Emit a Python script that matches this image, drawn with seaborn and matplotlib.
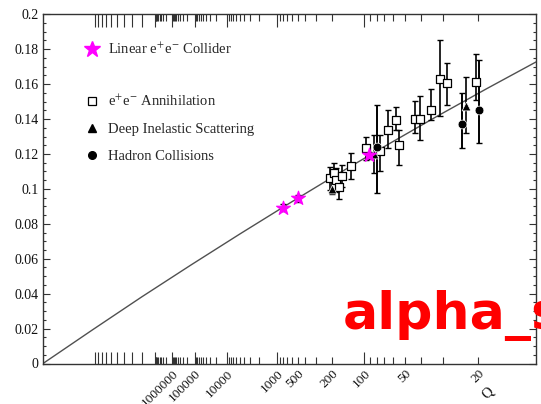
import numpy as np
import pandas as pd
import matplotlib
matplotlib.use("Agg")
import matplotlib.pyplot as plt
import seaborn as sns
from matplotlib.lines import Line2D

# ---- data (x in units of the plot's 1/ln(Q) axis, 0..1 across the frame) ----
line_t = [0.0, 0.1, 0.2, 0.3, 0.4, 0.5, 0.6, 0.7, 0.8, 0.9, 1.0]
line_alpha = [0.0, 0.0192, 0.0381, 0.0564, 0.0743, 0.0918, 0.1089, 0.1255, 0.1417, 0.1574, 0.1727]

star_t = [0.486, 0.517, 0.661]
star_a = [0.0892, 0.0946, 0.1194]
star_err = [0.002, 0.002, 0.002]

ann_t = [0.583, 0.590, 0.595, 0.600, 0.606, 0.624, 0.655, 0.684, 0.700, 0.716,
         0.723, 0.755, 0.765, 0.788, 0.805, 0.819, 0.878]
ann_a = [0.106, 0.1089, 0.1051, 0.1013, 0.1074, 0.1133, 0.1233, 0.1215, 0.134, 0.1395,
         0.1251, 0.1399, 0.1399, 0.1452, 0.1631, 0.1605, 0.1614]
ann_lo = [0.0994, 0.1032, 0.0985, 0.094, 0.1013, 0.1055, 0.1166, 0.110, 0.1233, 0.1337,
          0.1137, 0.132, 0.128, 0.1395, 0.1417, 0.148, 0.1509]
ann_hi = [0.1127, 0.115, 0.112, 0.107, 0.1137, 0.1204, 0.1296, 0.131, 0.145, 0.147,
          0.1335, 0.1505, 0.153, 0.157, 0.1853, 0.172, 0.1772]

dis_t = [0.586, 0.671, 0.858]
dis_a = [0.0998, 0.120, 0.1474]
dis_lo = [0.097, 0.109, 0.1322]
dis_hi = [0.107, 0.131, 0.1642]

had_t = [0.677, 0.849, 0.885]
had_a = [0.1239, 0.1372, 0.1452]
had_lo = [0.0978, 0.1233, 0.1264]
had_hi = [0.148, 0.1547, 0.1738]

# axis: Q tick marks
q_decades = [1e16, 1e15, 1e14, 1e13, 1e12, 1e11, 1e10, 1e9, 1e8, 1e7, 1e6, 1e5, 1e4, 1e3, 1e2]
q_decade_labels = ["", "", "", "", "", "", "", "", "", "", "1000000", "100000", "10000", "1000", "100"]
q_minor_labels = {500: "500", 200: "200", 50: "50", 20: "20"}
Q_LAMBDA = 0.211
Q_SCALE = 4.017

def q_to_t(q):
    return Q_SCALE / np.log(np.asarray(q, dtype=float) / Q_LAMBDA)

sns.set_theme(style="ticks")
plt.rcParams['font.family'] = ['Liberation Serif', 'DejaVu Serif']
plt.rcParams['mathtext.fontset'] = 'stix'

fig = plt.figure(figsize=(5.41, 4.04), dpi=100)
ax = fig.add_axes([43 / 541, 1 - 363.5 / 404, 493 / 541, 349.2 / 404])

sns.lineplot(x=line_t, y=line_alpha, ax=ax, color="#505050", lw=1.0, sort=False)

ecol = "black"
ax.errorbar(star_t, star_a, yerr=star_err, fmt="none", ecolor=ecol, elinewidth=1.1, capsize=2.2)
ax.errorbar(ann_t, ann_a, yerr=[np.subtract(ann_a, ann_lo), np.subtract(ann_hi, ann_a)],
            fmt="none", ecolor=ecol, elinewidth=1.2, capsize=2.4)
ax.errorbar(dis_t, dis_a, yerr=[np.subtract(dis_a, dis_lo), np.subtract(dis_hi, dis_a)],
            fmt="none", ecolor=ecol, elinewidth=1.2, capsize=2.4)
ax.errorbar(had_t, had_a, yerr=[np.subtract(had_a, had_lo), np.subtract(had_hi, had_a)],
            fmt="none", ecolor=ecol, elinewidth=1.4, capsize=2.4)

sns.scatterplot(x=ann_t, y=ann_a, ax=ax, marker="s", s=38, facecolor="white",
                edgecolor="black", linewidth=0.9, zorder=4)
sns.scatterplot(x=dis_t, y=dis_a, ax=ax, marker="^", s=40, color="black", zorder=4)
sns.scatterplot(x=had_t, y=had_a, ax=ax, marker="o", s=40, color="black", zorder=4)
sns.scatterplot(x=star_t, y=star_a, ax=ax, marker="*", s=110, color="#ff00ff",
                edgecolor="#ff00ff", zorder=5)

ax.set_xlim(0, 1)
ax.set_ylim(0, 0.2)

# y ticks
yt = np.arange(0, 0.2001, 0.02)
ax.set_yticks(yt)
ax.set_yticklabels(["0"] + [f"{v:.2f}".rstrip("0") for v in yt[1:]])
ax.set_yticks(np.arange(0, 0.2001, 0.005), minor=True)

# x ticks
ax.set_xticks(q_to_t(q_decades))
ax.set_xticklabels(q_decade_labels)
minor_q = [m * 10 ** n for n in range(1, 7) for m in range(2, 10) if m * 10 ** n > 11.7]
ax.set_xticks(q_to_t(minor_q), minor=True)
ax.set_xticklabels([q_minor_labels.get(int(q), "") for q in minor_q], minor=True)

for lbl in ax.get_xticklabels(which="both"):
    lbl.set_rotation(45)
    lbl.set_ha("right")
    lbl.set_va("top")
    lbl.set_rotation_mode("anchor")
    lbl.set_fontsize(9.5)
for lbl in ax.get_yticklabels():
    lbl.set_fontsize(10)

ax.tick_params(which="both", direction="in", top=True, right=True, color="#333333",
               width=0.8, labelcolor="#111111")
ax.tick_params(axis="x", which="major", length=9, pad=3)
ax.tick_params(axis="x", which="minor", length=5, pad=3)
ax.tick_params(axis="y", which="major", length=5, pad=3)
ax.tick_params(axis="y", which="minor", length=2.5)
for sp in ax.spines.values():
    sp.set_color("#333333")
    sp.set_linewidth(1.0)

ax.text(0.903, -0.085, "Q", transform=ax.transAxes, rotation=45, ha="center",
        va="center", fontsize=10.5, color="#111111")

# legends
h1 = [Line2D([], [], marker="*", ls="none", color="#ff00ff", ms=12)]
leg1 = ax.legend(h1, ["Linear e$^{+}$e$^{-}$ Collider"], loc="center left",
                 bbox_to_anchor=(0.085, 0.900), frameon=False, fontsize=10.5,
                 handlelength=1.0, handletextpad=0.55, borderpad=0, borderaxespad=0)
ax.add_artist(leg1)
h2 = [Line2D([], [], marker="s", ls="none", mfc="white", mec="black", ms=6, mew=0.9),
      Line2D([], [], marker="^", ls="none", color="black", ms=5.5),
      Line2D([], [], marker="o", ls="none", color="black", ms=5.5)]
ax.legend(h2, ["e$^{+}$e$^{-}$ Annihilation", "Deep Inelastic Scattering", "Hadron Collisions"],
          loc="upper left", bbox_to_anchor=(0.085, 0.773), frameon=False, fontsize=10.5,
          handlelength=1.0, handletextpad=0.55, borderpad=0, borderaxespad=0,
          labelspacing=0.95)

fig.text(343 / 541, 1 - 329 / 404, "alpha_s", color="#ff0000", fontsize=37.5,
         fontweight="bold", family="DejaVu Sans", ha="left", va="baseline")

fig.savefig("out.png", dpi=100)
